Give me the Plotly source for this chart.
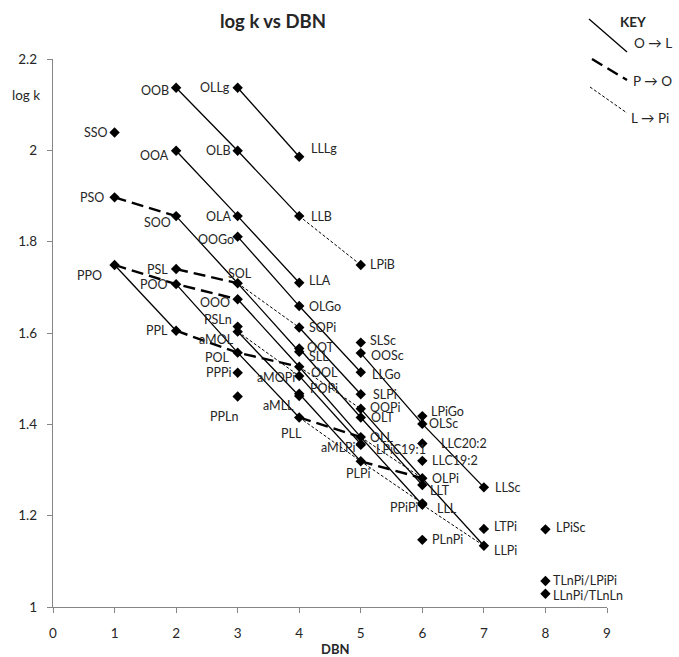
import plotly.graph_objects as go

# ---- data: triacylglycerol species, double-bond number and log k ----
names = [
    "SSO", "PSO", "PPO",
    "OOB", "OOA", "SOO", "PSL", "POO", "PPL",
    "OLLg", "OLB", "OLA", "OOGo", "SOL", "OOO", "PSLn", "aMOL", "POL", "PPPi", "PPLn",
    "LLLg", "LLB", "LLA", "OLGo", "SOPi", "OOT", "SLL", "OOL", "aMOPi", "POPi", "aMLL", "PLL",
    "LPiB", "SLSc", "OOSc", "LLGo", "SLPi", "OOPi", "OLT", "OLL", "aMLPi", "LPiC19:1", "PLPi",
    "LPiGo", "OLSc", "LLC20:2", "LLC19:2", "OLPi", "LLT", "PPiPi", "LLL", "PLnPi",
    "LLSc", "LTPi", "LLPi",
    "LPiSc", "TLnPi/LPiPi", "LLnPi/TLnLn",
]
dbn = [
    1, 1, 1,
    2, 2, 2, 2, 2, 2,
    3, 3, 3, 3, 3, 3, 3, 3, 3, 3, 3,
    4, 4, 4, 4, 4, 4, 4, 4, 4, 4, 4, 4,
    5, 5, 5, 5, 5, 5, 5, 5, 5, 5, 5,
    6, 6, 6, 6, 6, 6, 6, 6, 6,
    7, 7, 7,
    8, 8, 8,
]
logk = [
    2.039, 1.897, 1.749,
    2.137, 1.999, 1.856, 1.740, 1.707, 1.605,
    2.137, 1.999, 1.856, 1.811, 1.709, 1.674, 1.614, 1.603, 1.557, 1.513, 1.461,
    1.986, 1.856, 1.710, 1.659, 1.612, 1.566, 1.559, 1.526, 1.506, 1.467, 1.462, 1.415,
    1.749, 1.579, 1.556, 1.514, 1.466, 1.434, 1.415, 1.372, 1.357, 1.355, 1.319,
    1.418, 1.401, 1.358, 1.320, 1.282, 1.267, 1.227, 1.224, 1.147,
    1.262, 1.171, 1.134,
    1.170, 1.057, 1.029,
]

# chains of species linked by a single fatty-acid exchange
o_to_l = [
    ["OOB", "OLB", "LLB"],
    ["OLLg", "LLLg"],
    ["OOA", "OLA", "LLA"],
    ["SOO", "SOL", "SLL"],
    ["OOGo", "OLGo", "LLGo"],
    ["OOO", "OOL", "OLL", "LLL"],
    ["OOT", "OLT", "LLT"],
    ["OOSc", "OLSc", "LLSc"],
    ["OOPi", "OLPi", "LLPi"],
    ["PPO", "PPL"],
    ["POO", "POL", "PLL"],
    ["SOPi", "SLPi"],
    ["aMOL", "aMLL"],
    ["aMOPi", "aMLPi"],
    ["POPi", "PLPi"],
]
p_to_o = [
    ["PSO", "SOO"],
    ["PPO", "POO", "OOO"],
    ["PSL", "SOL"],
    ["PPL", "POL", "OOL"],
    ["PLL", "OLL"],
    ["PLPi", "OLPi"],
]
l_to_pi = [
    ["LLB", "LPiB"],
    ["SOL", "SOPi"],
    ["aMOL", "aMOPi"],
    ["OOL", "OOPi"],
    ["PLL", "PLPi", "PPiPi"],
    ["OLL", "OLPi"],
    ["LLL", "LLPi"],
]

x_ticks = [0, 1, 2, 3, 4, 5, 6, 7, 8, 9]
y_ticks = [1.0, 1.2, 1.4, 1.6, 1.8, 2.0, 2.2]
y_tick_text = ["1", "1.2", "1.4", "1.6", "1.8", "2", "2.2"]

# ---- label placement (anchor, x shift, y shift) ----
L, R = "right", "left"
label_style = {
    "SSO": (L, -5, 0), "PSO": (L, -9, 0), "PPO": (L, -11, -11),
    "OOB": (L, -5, -3), "OOA": (L, -5, -5), "SOO": (L, -3, -6),
    "PSL": (L, -6, 0), "POO": (L, -6, 0), "PPL": (L, -6, 0),
    "OLLg": (L, -6, 0), "OLB": (L, -5, 0), "OLA": (L, -5, 0), "OOGo": (L, -2, -3),
    "SOL": ("center", 2, 10), "OOO": (L, -6, -3), "PSLn": (L, -4, 7),
    "aMOL": (L, -2, -8), "POL": (L, -6, -5), "PPPi": (L, -5, 0),
    "PPLn": ("center", -14, -20),
    "LLLg": (R, 10, 8), "LLB": (R, 10, 0), "LLA": (R, 8, 2), "OLGo": (R, 8, 0),
    "SOPi": (R, 8, 0), "OOT": (R, 6, 1), "SLL": (R, 8, -5), "OOL": (R, 10, -6),
    "aMOPi": (L, -2, -2), "POPi": (R, 9, 5), "aMLL": (L, -3, -9),
    "PLL": ("center", -8, -16),
    "LPiB": (R, 7, 0), "SLSc": (R, 7, 2), "OOSc": (R, 8, -2), "LLGo": (R, 9, -2),
    "SLPi": (R, 10, 0), "OOPi": (R, 7, 1), "OLT": (R, 8, 0), "OLL": (R, 7, 0),
    "aMLPi": (L, -3, -4), "LPiC19:1": (R, 13, -5), "PLPi": ("center", -3, -12),
    "LPiGo": (R, 7, 5), "OLSc": (R, 5, 0), "LLC20:2": (R, 17, 0), "LLC19:2": (R, 8, 0),
    "OLPi": (R, 8, 0), "LLT": (R, 6, -5), "PPiPi": (L, -2, -4), "LLL": (R, 13, -4),
    "PLnPi": (R, 8, 0),
    "LLSc": (R, 9, 0), "LTPi": (R, 8, 2), "LLPi": (R, 8, -5),
    "LPiSc": (R, 9, 2), "TLnPi/LPiPi": (R, 6, 0), "LLnPi/TLnLn": (R, 6, -2),
}

FONT = "Lato, 'Open Sans', sans-serif"
AXIS_GREY = "#868686"
TEXT = "#262626"

pos = {n: (x, y) for n, x, y in zip(names, dbn, logk)}

fig = go.Figure()


def add_chains(chains, dash, width):
    for chain in chains:
        fig.add_trace(go.Scatter(
            x=[pos[n][0] for n in chain],
            y=[pos[n][1] for n in chain],
            mode="lines",
            line=dict(color="black", width=width, dash=dash),
            hoverinfo="skip", showlegend=False,
        ))


add_chains(o_to_l, "solid", 1.3)
add_chains(p_to_o, "12px,6px", 2.4)
add_chains(l_to_pi, "3px,2px", 1.0)

fig.add_trace(go.Scatter(
    x=dbn, y=logk, mode="markers", text=names,
    marker=dict(symbol="diamond", size=8, color="black"),
    showlegend=False,
))

annotations = []
for n, x, y in zip(names, dbn, logk):
    anchor, dx, dy = label_style[n]
    annotations.append(dict(
        x=x, y=y, xref="x", yref="y", text=n, showarrow=False,
        xanchor=anchor, yanchor="middle", xshift=dx, yshift=dy,
        font=dict(family=FONT, size=12.5, color=TEXT),
    ))

# key and axis captions are placed in paper space
PW, PH, L0, B0 = 554.0, 548.0, 53.0, 607.0


def px(x):
    return (x - L0) / PW


def py(y):
    return (B0 - y) / PH


annotations.append(dict(
    x=px(26), y=py(95), xref="paper", yref="paper", text="log k", showarrow=False,
    xanchor="center", yanchor="middle",
    font=dict(family=FONT, size=13.5, color=TEXT),
))
annotations.append(dict(
    x=px(335), y=py(649), xref="paper", yref="paper", text="<b>DBN</b>",
    showarrow=False, xanchor="center", yanchor="middle",
    font=dict(family=FONT, size=13, color=TEXT),
))

key_items = [
    ("O \u2192 L", "solid", 1.3, (589, 19, 627, 52), (653, 43)),
    ("P \u2192 O", "12px,6px", 2.4, (592, 59, 627, 80), (652, 81)),
    ("L \u2192 Pi", "3px,2px", 1.0, (590, 87, 627, 113), (650, 118)),
]
shapes = []
for label, dash, width, (x0, y0, x1, y1), (tx, ty) in key_items:
    shapes.append(dict(
        type="line", xref="paper", yref="paper",
        x0=px(x0), y0=py(y0), x1=px(x1), y1=py(y1),
        line=dict(color="black", width=width, dash=dash),
    ))
    annotations.append(dict(
        x=px(tx), y=py(ty), xref="paper", yref="paper", text=label,
        showarrow=False, xanchor="center", yanchor="middle",
        font=dict(family=FONT, size=13.5, color=TEXT),
    ))
annotations.append(dict(
    x=px(633), y=py(22), xref="paper", yref="paper", text="<b>KEY</b>",
    showarrow=False, xanchor="center", yanchor="middle",
    font=dict(family=FONT, size=13.5, color=TEXT),
))

fig.update_layout(
    width=679, height=657,
    margin=dict(l=53, r=72, t=59, b=50),
    paper_bgcolor="white", plot_bgcolor="white",
    title=dict(text="<b>log k vs DBN</b>", x=(273 / 679), xanchor="center",
               y=1 - 22 / 657, yanchor="middle",
               font=dict(family=FONT, size=18.5, color=TEXT)),
    xaxis=dict(
        range=[0, 9], tickvals=x_ticks, showgrid=False, zeroline=False,
        showline=True, linecolor=AXIS_GREY, linewidth=1.3,
        ticks="outside", ticklen=5, tickcolor=AXIS_GREY,
        ticklabelstandoff=9, automargin=False,
        tickfont=dict(family=FONT, size=13.5, color=TEXT),
    ),
    yaxis=dict(
        range=[1.0, 2.2], tickvals=y_ticks, ticktext=y_tick_text,
        showgrid=False, zeroline=False,
        showline=True, linecolor=AXIS_GREY, linewidth=1.3,
        ticks="outside", ticklen=5, tickcolor=AXIS_GREY,
        ticklabelstandoff=7, automargin=False,
        tickfont=dict(family=FONT, size=13.5, color=TEXT),
    ),
    shapes=shapes,
    annotations=annotations,
)

fig.write_html("out.html")
